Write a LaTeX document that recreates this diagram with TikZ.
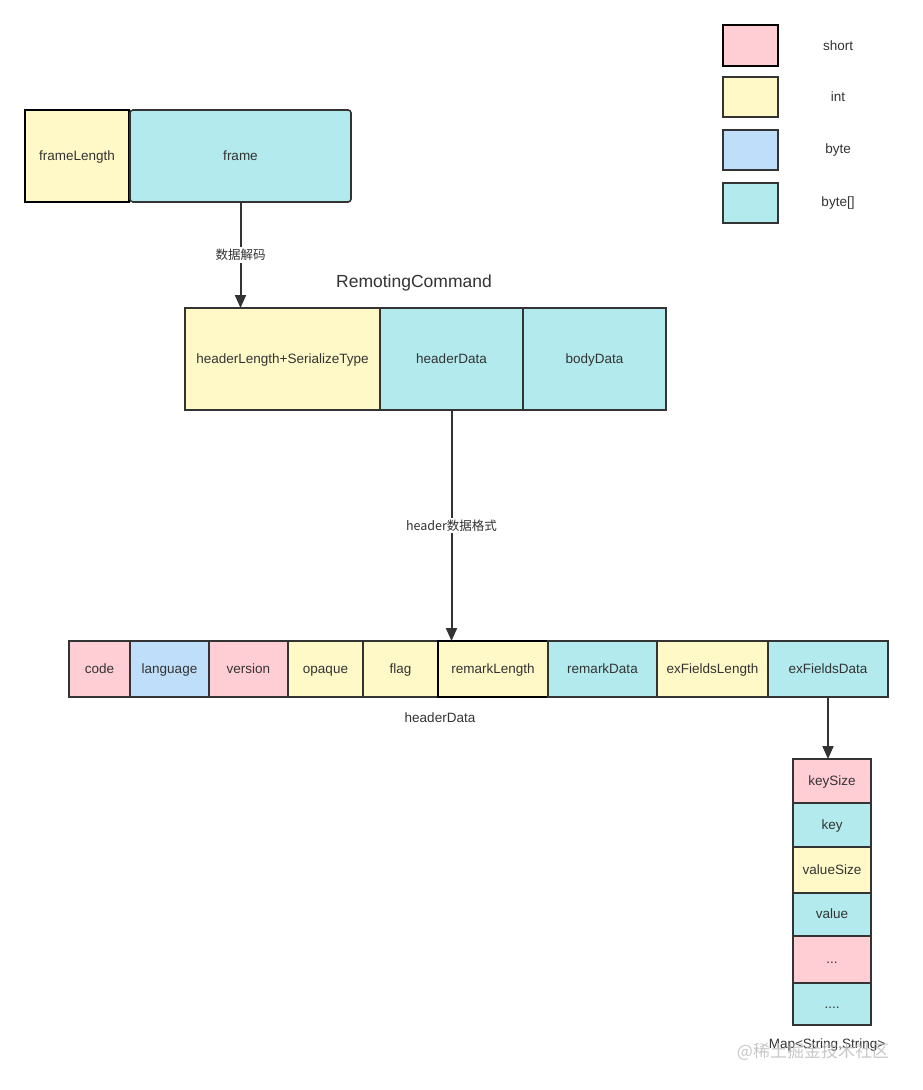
\documentclass[tikz,border=0pt]{standalone}
\usepackage{fontspec}
\setmainfont{Liberation Sans}
\newfontfamily\cjk{Noto Sans CJK SC}
\usepackage{xcolor}
\usepackage{tikz}
\usetikzlibrary{arrows.meta}
\definecolor{fieldshort}{RGB}{255,206,213}
\definecolor{fieldint}{RGB}{255,249,200}
\definecolor{fieldbyte}{RGB}{190,222,250}
\definecolor{fieldbytes}{RGB}{178,234,238}
\definecolor{fieldline}{RGB}{51,51,51}
\definecolor{fieldtext}{RGB}{51,51,51}

\begin{document}
\begin{tikzpicture}[x=1pt,y=-1pt,
  field/.style={draw=fieldline, line width=1.6pt, inner sep=0pt, outer sep=0pt,
    text=fieldtext, text height=10.5pt, text depth=2pt,
    font=\fontsize{13.5}{16}\selectfont},
  shortbox/.style={field, fill=fieldshort},
  intbox/.style={field, fill=fieldint},
  bytebox/.style={field, fill=fieldbyte},
  bytesbox/.style={field, fill=fieldbytes},
  plain/.style={text=fieldtext, font=\fontsize{13.5}{16}\selectfont},
  flow/.style={draw=fieldline, line width=2pt, -{Triangle[length=13pt,width=11pt]}},
  flowlabel/.style={fill=white, text=fieldtext, inner sep=2pt,
    font=\cjk\fontsize{12.5}{15}\selectfont}
]
\useasboundingbox (0,0) rectangle (923,1090);

% Legend
\node[shortbox, draw=black, line width=2pt, minimum width=55, minimum height=41] (lshort) at (750.5,45.5) {};
\node[intbox, minimum width=55, minimum height=40] (lint) at (750.5,97) {};
\node[bytebox, minimum width=55, minimum height=40] (lbyte) at (750.5,150) {};
\node[bytesbox, minimum width=55, minimum height=40] (lbytes) at (750.5,203) {};
\node[plain] (tshort) at (838,45.5) {short};
\node[plain] (tint) at (838,97) {int};
\node[plain] (tbyte) at (838,150) {byte};
\node[plain] (tbytes) at (838,203) {byte[]};

% Frame
\node[intbox, draw=black, line width=2pt, minimum width=104, minimum height=92] (flen) at (77,156) {frameLength};
\node[bytesbox, rounded corners=3pt, minimum width=221, minimum height=92] (frame) at (240.5,156) {frame};

% RemotingCommand
\node[text=fieldtext, font=\fontsize{17.5}{21}\selectfont] (rc) at (414,283) {RemotingCommand};
\node[intbox, minimum width=195, minimum height=102] (hlen) at (282.5,359) {headerLength+SerializeType};
\node[bytesbox, minimum width=143, minimum height=102] (hdata) at (451.5,359) {headerData};
\node[bytesbox, minimum width=143, minimum height=102] (bdata) at (594.5,359) {bodyData};

% Header fields
\node[shortbox, minimum width=61, minimum height=56] (code) at (99.5,669) {code};
\node[bytebox, minimum width=79, minimum height=56] (lang) at (169.5,669) {language};
\node[shortbox, minimum width=79, minimum height=56] (ver) at (248.5,669) {version};
\node[intbox, minimum width=75, minimum height=56] (opq) at (325.5,669) {opaque};
\node[intbox, minimum width=75, minimum height=56] (flag) at (400.5,669) {flag};
\node[intbox, draw=black, minimum width=110, minimum height=56] (rlen) at (493,669) {remarkLength};
\node[bytesbox, minimum width=109, minimum height=56] (rdata) at (602.5,669) {remarkData};
\node[intbox, minimum width=111, minimum height=56] (exlen) at (712.5,669) {exFieldsLength};
\node[bytesbox, minimum width=120, minimum height=56] (exdata) at (828,669) {exFieldsData};
\node[plain] (hdname) at (440,718) {headerData};

% Map entries
\node[shortbox, minimum width=78, minimum height=44] (ksize) at (832,781) {keySize};
\node[bytesbox, minimum width=78, minimum height=44] (key) at (832,825) {key};
\node[intbox, minimum width=78, minimum height=46] (vsize) at (832,870) {valueSize};
\node[bytesbox, minimum width=78, minimum height=43] (val) at (832,914.5) {value};
\node[shortbox, minimum width=78, minimum height=47] (more) at (832,959.5) {...};
\node[bytesbox, minimum width=78, minimum height=42] (moremore) at (832,1004) {....};
\node[plain] (mapname) at (827,1045) {Map<String,String>};

% Watermark
\node[text=gray!55, opacity=0.8, font=\cjk\fontsize{17}{20}\selectfont] (mark) at (813,1052) {@稀土掘金技术社区};

% Arrows
\draw[flow] (frame.south) -- (frame.south |- hlen.north)
  node[flowlabel, midway] (decode) {数据解码};
\draw[flow] (hdata.south) -- (hdata.south |- rlen.north)
  node[flowlabel, midway] (hfmt) {header数据格式};
\draw[flow] (exdata.south) -- (exdata.south |- ksize.north);
\end{tikzpicture}
\end{document}
